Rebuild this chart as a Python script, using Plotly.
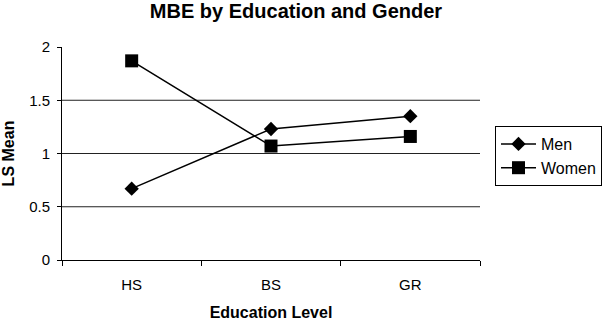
import plotly.graph_objects as go

categories = ["HS", "BS", "GR"]
men = [0.67, 1.23, 1.35]
women = [1.87, 1.07, 1.16]
grid_levels = [0.5, 1.0, 1.5]
y_ticks = [0, 0.5, 1, 1.5, 2]
y_tick_labels = ["0", "0.5", "1", "1.5", "2"]

FONT = "Liberation Sans, Arial, sans-serif"

fig = go.Figure()
fig.add_trace(go.Scatter(x=categories, y=men, name="Men", mode="lines+markers",
                         line=dict(color="black", width=1.5),
                         marker=dict(symbol="diamond", size=11, color="black")))
fig.add_trace(go.Scatter(x=categories, y=women, name="Women", mode="lines+markers",
                         line=dict(color="black", width=1.5),
                         marker=dict(symbol="square", size=13, color="black")))

for g in grid_levels:
    fig.add_shape(type="line", xref="paper", x0=0, x1=1, yref="y", y0=g, y1=g,
                  line=dict(color="#222", width=1), layer="below")

fig.update_layout(
    width=606, height=321,
    margin=dict(l=62, r=126, t=47, b=61, autoexpand=False),
    paper_bgcolor="white", plot_bgcolor="white",
    font=dict(family=FONT, size=15, color="black"),
    title=dict(text="<b>MBE by Education and Gender</b>", x=296/606, xanchor="center",
               y=1 - 11/321, yanchor="middle", font=dict(size=20)),
    showlegend=True,
    legend=dict(x=(495 - 62) / 418, y=(260 - 126) / 213, xanchor="left", yanchor="top",
                bordercolor="black", borderwidth=1, bgcolor="white",
                font=dict(size=16), tracegroupgap=0, itemwidth=35),
    xaxis=dict(type="category", range=[-0.5, 2.5], tickson="boundaries",
               ticks="outside", ticklen=5, tickcolor="black", showline=True,
               linecolor="black", linewidth=1, showgrid=False, automargin=False,
               ticklabelstandoff=11,
               title=dict(text="<b>Education Level</b>", font=dict(size=16), standoff=20),
               tickfont=dict(size=15)),
    yaxis=dict(range=[0, 2], tickvals=y_ticks, ticktext=y_tick_labels,
               ticks="outside", ticklen=4, tickcolor="black", showline=True,
               linecolor="black", linewidth=1, showgrid=False, zeroline=False,
               automargin=False, ticklabelstandoff=4,
               title=dict(text="<b>LS Mean</b>", font=dict(size=16), standoff=13),
               tickfont=dict(size=15)),
)

fig.write_html("out.html", config={"displayModeBar": False},
               post_script="document.body.style.margin='0';document.body.style.padding='0';")
